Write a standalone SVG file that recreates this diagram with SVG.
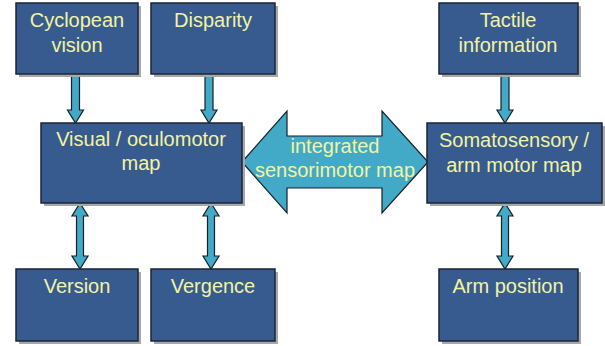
<svg xmlns="http://www.w3.org/2000/svg" width="605" height="346" viewBox="0 0 605 346">
<defs>
<style>
.box{fill:#375b8e;stroke:#1b2436;stroke-width:1.5}
.sh{fill:#a8a8a8}
.t{font-family:"Liberation Sans",Arial,sans-serif;font-size:20px;fill:#f3f3a2;text-anchor:middle}
.ar{fill:#42a9c6;stroke:#15202a;stroke-width:1.2;stroke-linejoin:miter}
</style>
</defs>
<rect width="605" height="346" fill="#ffffff"/>
<g id="connectors">
<path class="ar" d="M71.5,74 H79.5 V110 H83.5 L75.5,123 L67.5,110 H71.5 Z"/>
<path class="ar" d="M205,74 H213 V110 H217 L209,123 L201,110 H205 Z"/>
<path class="ar" d="M501,74 H509 V110 H513 L505,123 L497,110 H501 Z"/>
<path class="ar" d="M80,203 L88,216 H83.5 V256 H88 L80,269 L72,256 H76.5 V216 H72 Z"/>
<path class="ar" d="M211,203 L219,216 H214.5 V256 H219 L211,269 L203,256 H207.5 V216 H203 Z"/>
<path class="ar" d="M505,203 L513,216 H508.5 V256 H513 L505,269 L497,256 H501.5 V216 H497 Z"/>
<g id="integrated">
<path class="ar" d="M242,162 L287,111 V136 H382 V111 L428,162 L382,213 V188 H287 V213 Z"/>
<text class="t" x="335" y="153">integrated</text>
<text class="t" x="335" y="177">sensorimotor map</text>
</g>
</g>
<g id="cyclopean">
<rect class="sh" x="19" y="6" width="122" height="71"/>
<rect class="box" x="16" y="3" width="122" height="71"/>
<text class="t" x="77" y="27">Cyclopean</text>
<text class="t" x="77" y="52">vision</text>
</g>
<g id="disparity">
<rect class="sh" x="154" y="6" width="124" height="71"/>
<rect class="box" x="151" y="3" width="124" height="71"/>
<text class="t" x="213" y="27">Disparity</text>
</g>
<g id="tactile">
<rect class="sh" x="442" y="6" width="139" height="71"/>
<rect class="box" x="439" y="3" width="139" height="71"/>
<text class="t" x="508" y="27">Tactile</text>
<text class="t" x="508" y="52">information</text>
</g>
<g id="visual">
<rect class="sh" x="44" y="126" width="201" height="80"/>
<rect class="box" x="41" y="123" width="201" height="80"/>
<text class="t" x="141" y="146">Visual / oculomotor</text>
<text class="t" x="141" y="170">map</text>
</g>
<g id="somato">
<rect class="sh" x="430" y="126" width="175" height="80"/>
<rect class="box" x="427" y="123" width="175" height="80"/>
<text class="t" x="514" y="147">Somatosensory /</text>
<text class="t" x="514" y="172">arm motor map</text>
</g>
<g id="version">
<rect class="sh" x="19" y="272" width="122" height="72"/>
<rect class="box" x="16" y="269" width="122" height="72"/>
<text class="t" x="77" y="293">Version</text>
</g>
<g id="vergence">
<rect class="sh" x="154" y="272" width="124" height="72"/>
<rect class="box" x="151" y="269" width="124" height="72"/>
<text class="t" x="213" y="293">Vergence</text>
</g>
<g id="arm">
<rect class="sh" x="442" y="272" width="139" height="72"/>
<rect class="box" x="439" y="269" width="139" height="72"/>
<text class="t" x="508" y="293">Arm position</text>
</g>
</svg>
